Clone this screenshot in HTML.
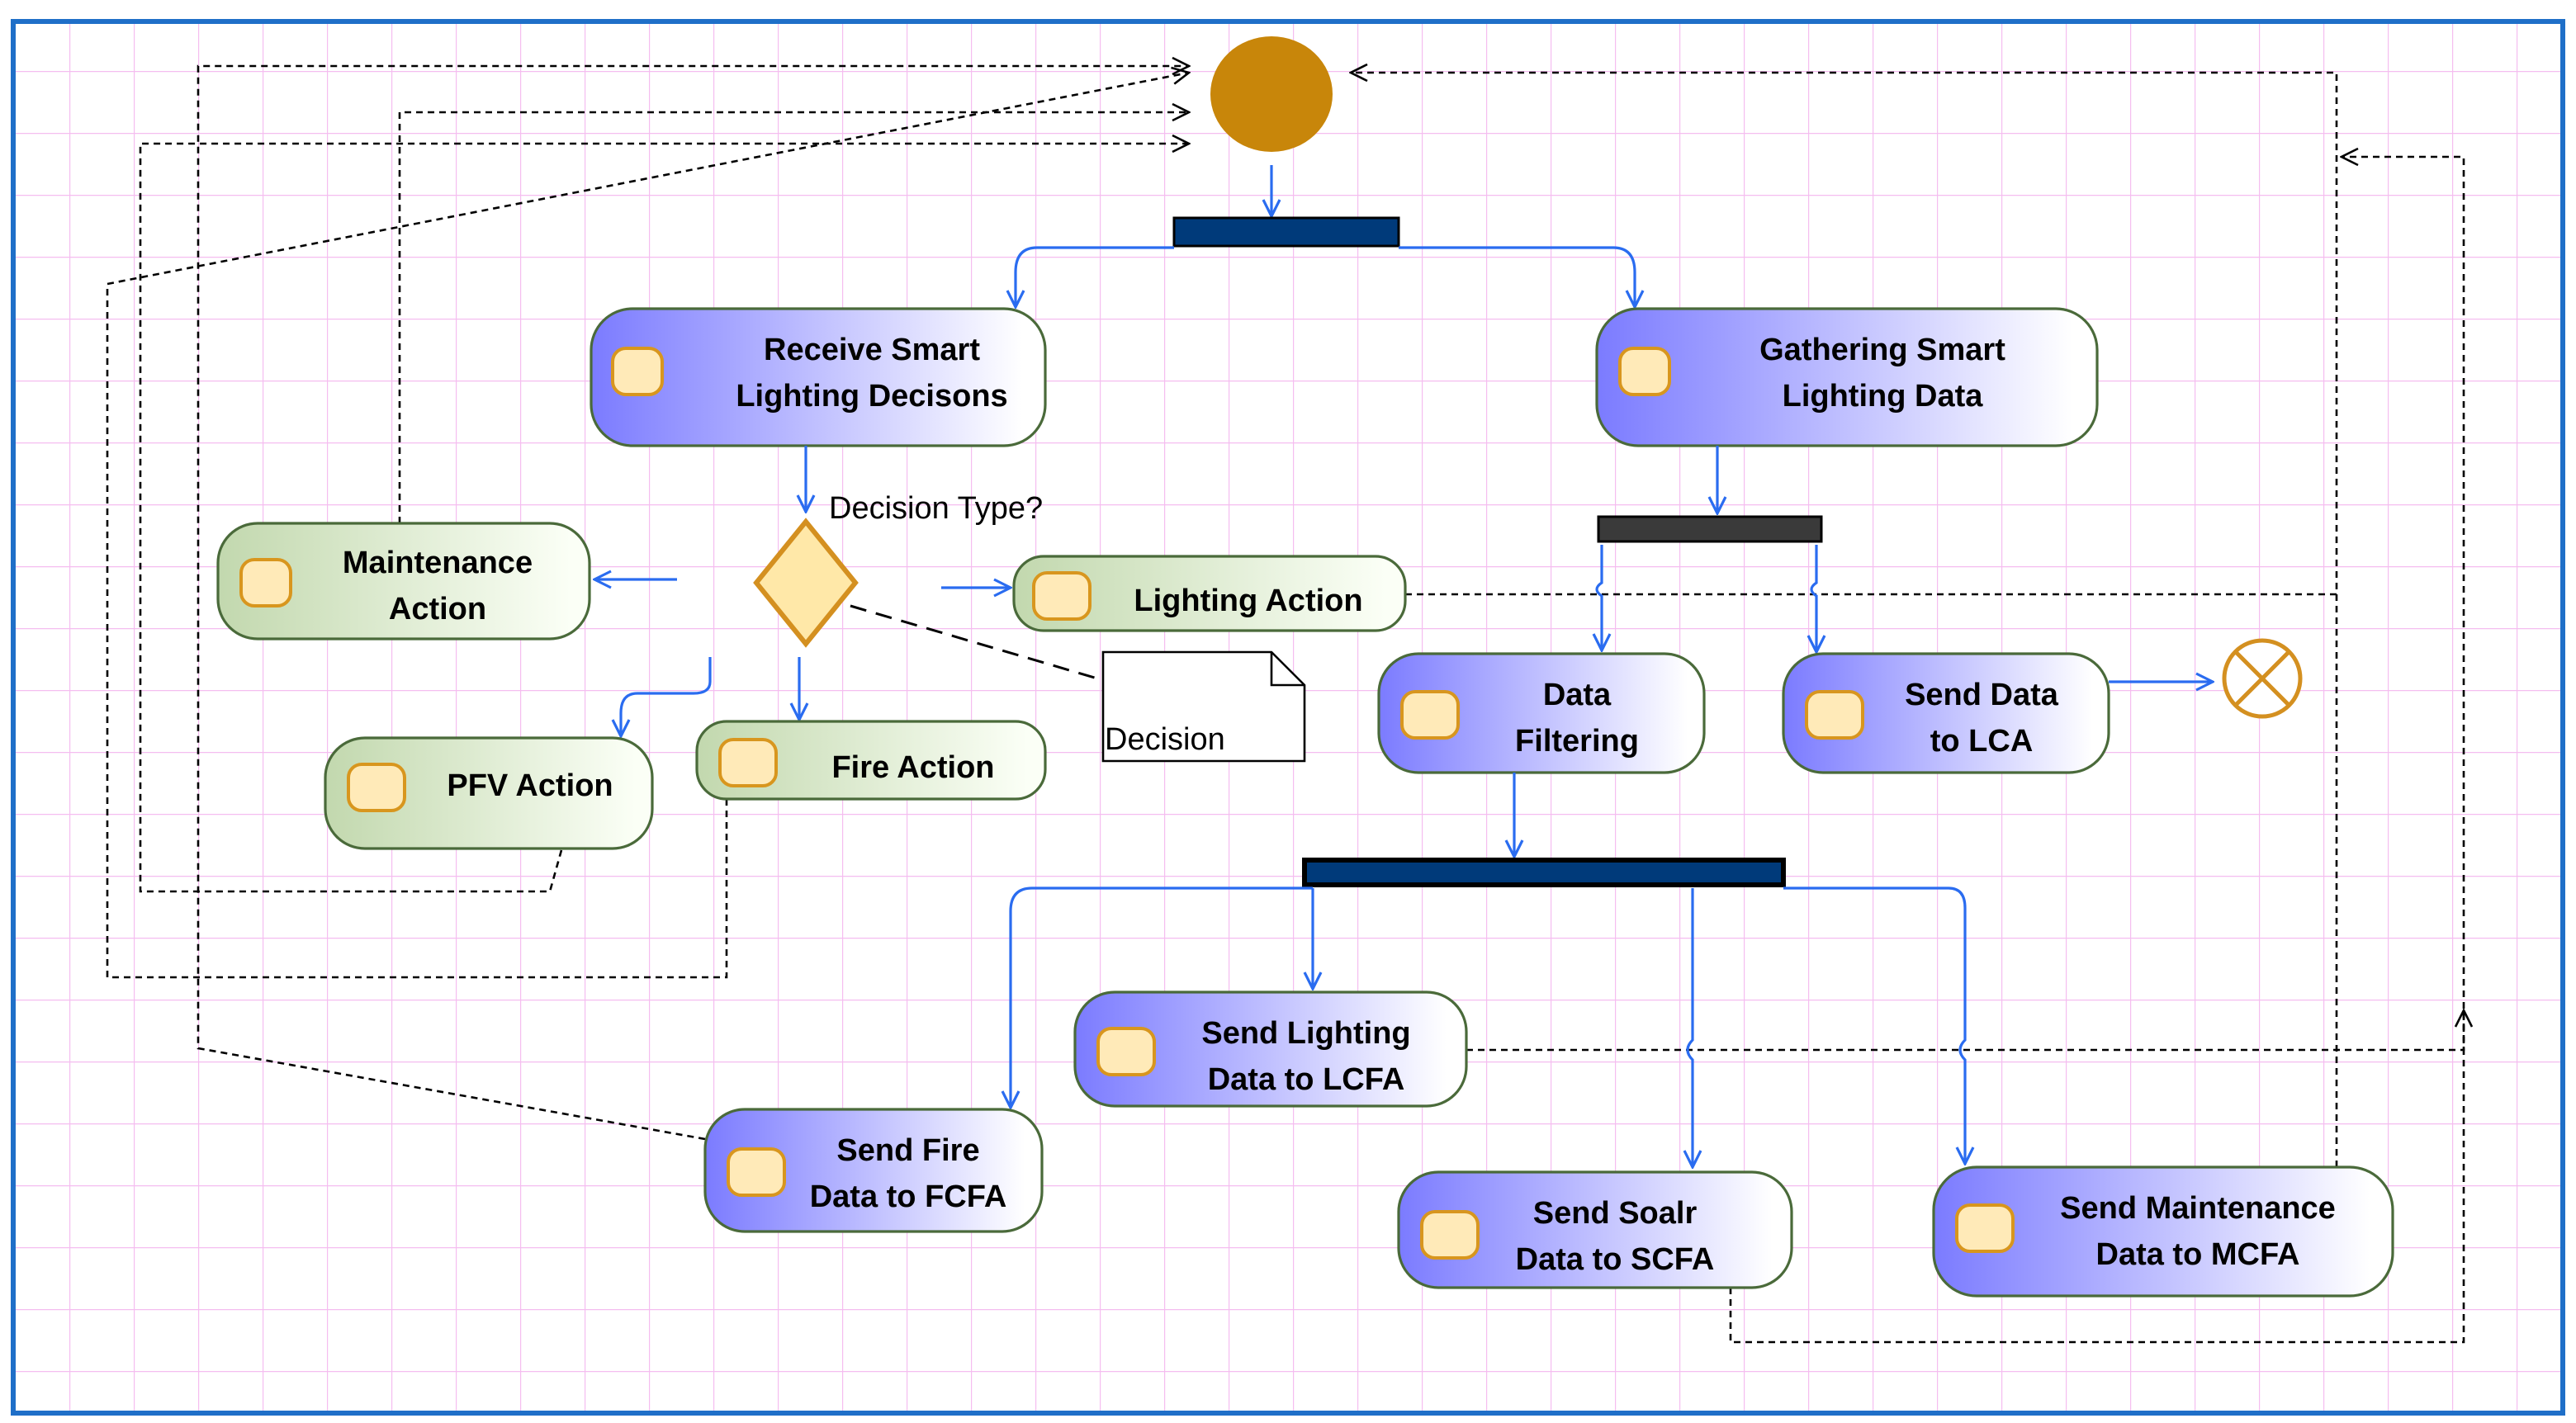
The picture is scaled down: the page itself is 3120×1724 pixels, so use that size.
<!DOCTYPE html>
<html><head><meta charset="utf-8"><style>
html,body{margin:0;padding:0;background:#fff;}
svg{display:block;}
text{font-family:"Liberation Sans",Arial,sans-serif;}
.t{font-weight:bold;font-size:19px;fill:#000;text-anchor:middle;}
.bl{stroke:#2a6cf0;stroke-width:1.6;fill:none;}
.ds{stroke:#000;stroke-width:1.3;stroke-dasharray:4 3;fill:none;}
.nd{stroke:#4a6a3a;stroke-width:1.6;}
.ic{fill:#ffeab8;stroke:#d8961e;stroke-width:2;}
</style></head><body>
<svg width="3120" height="1724" viewBox="0 0 1560 862" xmlns="http://www.w3.org/2000/svg">
<defs>
<linearGradient id="gb" x1="0" x2="1" y1="0" y2="0"><stop offset="0" stop-color="#7b7bff"/><stop offset="0.95" stop-color="#ffffff"/></linearGradient>
<linearGradient id="gg" x1="0" x2="1" y1="0" y2="0"><stop offset="0" stop-color="#c2d8ae"/><stop offset="0.95" stop-color="#fbfff6"/></linearGradient>
<pattern id="grid" x="3" y="5.5" width="39" height="37.5" patternUnits="userSpaceOnUse">
<path d="M0 0V37.5M0 0H39" stroke="#f5bdf0" stroke-width="1.2" fill="none"/>
</pattern>
<marker id="ab" viewBox="0 0 12 12" refX="11" refY="6" markerWidth="12" markerHeight="12" orient="auto" markerUnits="userSpaceOnUse"><path d="M1 1L11 6L1 11" stroke="#2a6cf0" stroke-width="1.6" fill="none"/></marker>
<marker id="ak" viewBox="0 0 12 12" refX="11" refY="6" markerWidth="12" markerHeight="12" orient="auto" markerUnits="userSpaceOnUse"><path d="M1 1L11 6L1 11" stroke="#000" stroke-width="1.3" fill="none"/></marker>
</defs>
<rect x="0" y="0" width="1560" height="862" fill="#fff"/>
<rect x="8" y="13" width="1544" height="843" fill="url(#grid)"/>
<rect x="8" y="13" width="1544" height="843" fill="none" stroke="#1f6fc8" stroke-width="3"/>

<!-- dashed connectors -->
<path class="ds" d="M427 690L120 635V40H720" marker-end="url(#ak)"/>
<path class="ds" d="M242 317V68H720" marker-end="url(#ak)"/>
<path class="ds" d="M340 515L333 540H85V87H720" marker-end="url(#ak)"/>
<path class="ds" d="M440 484V592H65V172L720 44" marker-end="url(#ak)"/>
<path class="ds" d="M851 360H1415V44H818" marker-end="url(#ak)"/>
<path class="ds" d="M1415 707V360"/>
<path class="ds" d="M1048 780V813H1492V95H1418" marker-end="url(#ak)"/>
<path class="ds" d="M888 636H1492V612" marker-end="url(#ak)"/>
<path d="M515 367L668 412" stroke="#000" stroke-width="1.5" stroke-dasharray="10 6" fill="none"/>

<!-- start -->
<ellipse cx="770" cy="57" rx="37" ry="35" fill="#c8860a"/>
<path class="bl" d="M770 100V131" marker-end="url(#ab)"/>
<rect x="711" y="132" width="136" height="17" fill="#003a7a" stroke="#000" stroke-width="1.5"/>
<path class="bl" d="M711 150H628Q615 150 615 165V186" marker-end="url(#ab)"/>
<path class="bl" d="M847 150H977Q990 150 990 165V186" marker-end="url(#ab)"/>

<!-- receive -->
<rect class="nd" x="358" y="187" width="275" height="83" rx="25" fill="url(#gb)"/>
<rect class="ic" x="371" y="211" width="30" height="28" rx="8"/>
<text class="t" x="528" y="218">Receive Smart</text>
<text class="t" x="528" y="246">Lighting Decisons</text>

<!-- gathering -->
<rect class="nd" x="967" y="187" width="303" height="83" rx="25" fill="url(#gb)"/>
<rect class="ic" x="981" y="211" width="30" height="28" rx="8"/>
<text class="t" x="1140" y="218">Gathering Smart</text>
<text class="t" x="1140" y="246">Lighting Data</text>

<path class="bl" d="M488 270V310" marker-end="url(#ab)"/>
<text x="502" y="314" font-size="19" fill="#000">Decision Type?</text>
<polygon points="488,316 518,353 488,390 458,353" fill="#ffe8a8" stroke="#d49020" stroke-width="3"/>

<path class="bl" d="M410 351H360" marker-end="url(#ab)"/>
<rect class="nd" x="132" y="317" width="225" height="70" rx="24" fill="url(#gg)"/>
<rect class="ic" x="146" y="339" width="30" height="28" rx="8"/>
<text class="t" x="265" y="347">Maintenance</text>
<text class="t" x="265" y="375">Action</text>

<path class="bl" d="M570 356H612" marker-end="url(#ab)"/>
<rect class="nd" x="614" y="337" width="237" height="45" rx="18" fill="url(#gg)"/>
<rect class="ic" x="626" y="347" width="34" height="28" rx="8"/>
<text class="t" x="756" y="370">Lighting Action</text>

<path d="M668 395H770L790 415V461H668Z" fill="#fff" stroke="#000" stroke-width="1.3"/>
<path d="M770 395V415H790" fill="none" stroke="#000" stroke-width="1.3"/>
<text x="669" y="454" font-size="19" fill="#000">Decision</text>

<path class="bl" d="M484 398V436" marker-end="url(#ab)"/>
<rect class="nd" x="422" y="437" width="211" height="47" rx="18" fill="url(#gg)"/>
<rect class="ic" x="436" y="448" width="34" height="28" rx="8"/>
<text class="t" x="553" y="471">Fire Action</text>

<path class="bl" d="M430 398V413Q430 420 420 420H386Q376 420 376 432V446" marker-end="url(#ab)"/>
<rect class="nd" x="197" y="447" width="198" height="67" rx="24" fill="url(#gg)"/>
<rect class="ic" x="211" y="463" width="34" height="28" rx="8"/>
<text class="t" x="321" y="482">PFV Action</text>

<!-- right branch -->
<path class="bl" d="M1040 270V311" marker-end="url(#ab)"/>
<rect x="968" y="313" width="135" height="15" fill="#3a3a3a" stroke="#000" stroke-width="1.5"/>
<path class="bl" d="M970 330V353Q964 357 970 361V394" marker-end="url(#ab)"/>
<path class="bl" d="M1100 330V353Q1094 357 1100 361V395" marker-end="url(#ab)"/>

<rect class="nd" x="835" y="396" width="197" height="72" rx="24" fill="url(#gb)"/>
<rect class="ic" x="849" y="419" width="34" height="28" rx="8"/>
<text class="t" x="955" y="427">Data</text>
<text class="t" x="955" y="455">Filtering</text>

<rect class="nd" x="1080" y="396" width="197" height="72" rx="24" fill="url(#gb)"/>
<rect class="ic" x="1094" y="419" width="34" height="28" rx="8"/>
<text class="t" x="1200" y="427">Send Data</text>
<text class="t" x="1200" y="455">to LCA</text>

<path class="bl" d="M1277 413H1340" marker-end="url(#ab)"/>
<circle cx="1370" cy="411" r="23" fill="#fff" stroke="#d49020" stroke-width="2.5"/>
<path d="M1354 395L1386 427M1386 395L1354 427" stroke="#d49020" stroke-width="2.5"/>

<path class="bl" d="M917 468V519" marker-end="url(#ab)"/>
<rect x="790" y="521" width="290" height="15" fill="#003a7a" stroke="#000" stroke-width="3"/>
<path class="bl" d="M795 538H625Q612 538 612 552V671" marker-end="url(#ab)"/>
<path class="bl" d="M795 538V599" marker-end="url(#ab)"/>
<path class="bl" d="M1025 538V630Q1019 636 1025 642V707" marker-end="url(#ab)"/>
<path class="bl" d="M1080 538H1180Q1190 538 1190 550V630Q1184 636 1190 642V705" marker-end="url(#ab)"/>

<rect class="nd" x="651" y="601" width="237" height="69" rx="24" fill="url(#gb)"/>
<rect class="ic" x="665" y="623" width="34" height="28" rx="8"/>
<text class="t" x="791" y="632">Send Lighting</text>
<text class="t" x="791" y="660">Data to LCFA</text>

<rect class="nd" x="427" y="672" width="204" height="74" rx="24" fill="url(#gb)"/>
<rect class="ic" x="441" y="696" width="34" height="28" rx="8"/>
<text class="t" x="550" y="703">Send Fire</text>
<text class="t" x="550" y="731">Data to FCFA</text>

<rect class="nd" x="847" y="710" width="238" height="70" rx="24" fill="url(#gb)"/>
<rect class="ic" x="861" y="734" width="34" height="28" rx="8"/>
<text class="t" x="978" y="741">Send Soalr</text>
<text class="t" x="978" y="769">Data to SCFA</text>

<rect class="nd" x="1171" y="707" width="278" height="78" rx="26" fill="url(#gb)"/>
<rect class="ic" x="1185" y="730" width="34" height="28" rx="8"/>
<text class="t" x="1331" y="738">Send Maintenance</text>
<text class="t" x="1331" y="766">Data to MCFA</text>
</svg>
</body></html>
